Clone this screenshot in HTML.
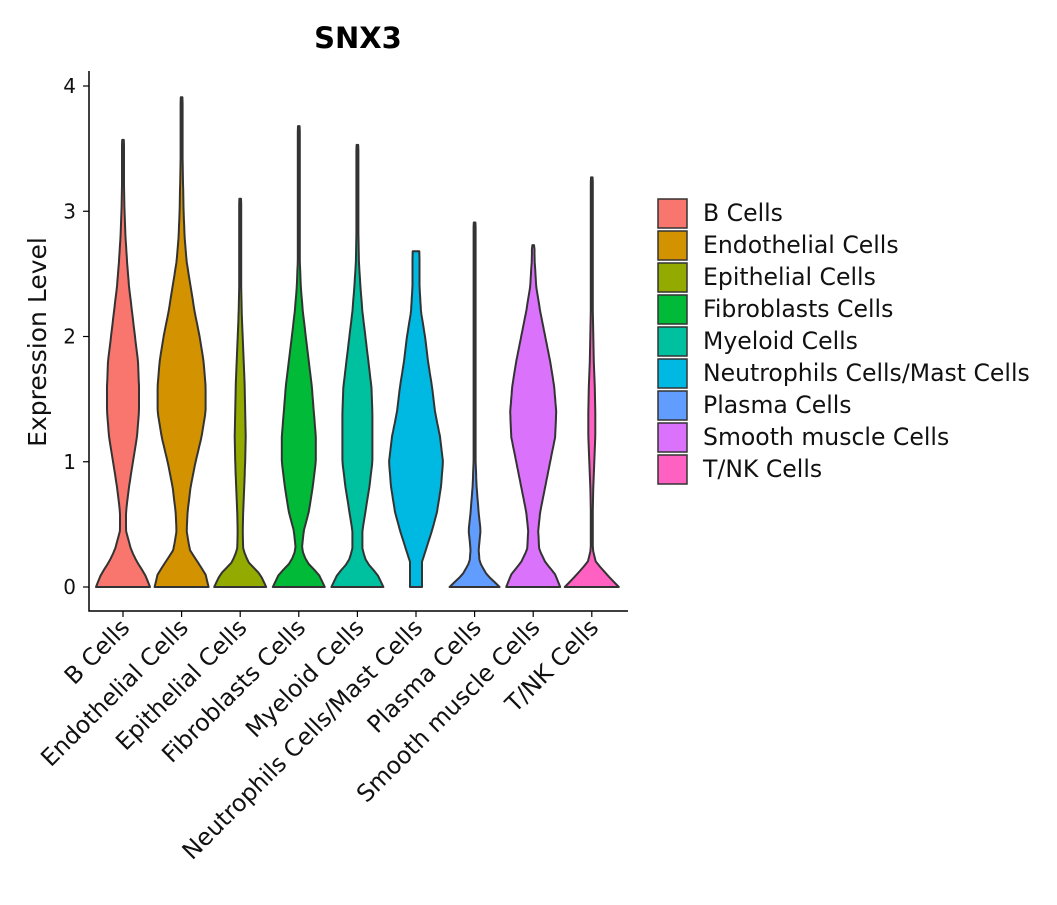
<!DOCTYPE html>
<html><head><meta charset="utf-8"><style>
body{margin:0;background:#fff;}
svg{font-family:"DejaVu Sans","Liberation Sans",sans-serif;}
</style></head><body>
<svg id="chart" width="1057" height="900">
<text x="358" y="48" text-anchor="middle" font-size="29" font-weight="bold">SNX3</text>
<text transform="translate(46,342) rotate(-90)" text-anchor="middle" font-size="25" fill="#111">Expression Level</text>
<g id="plot"></g>
<g id="legend"></g>
</svg>
<script>
const categories=["B Cells","Endothelial Cells","Epithelial Cells","Fibroblasts Cells","Myeloid Cells","Neutrophils Cells/Mast Cells","Plasma Cells","Smooth muscle Cells","T/NK Cells"];
const colors=["#F8766D","#D39200","#93AA00","#00BA38","#00C19F","#00B9E3","#619CFF","#DB72FB","#FF61C3"];
const yGrid=[0,0.1,0.2,0.3,0.45,0.6,0.8,1.0,1.2,1.4,1.6,1.8,2.0,2.2,2.4,2.6,2.8,3.0,3.2,3.4,3.6,3.8,4.0];
const maxVals=[3.57,3.91,3.1,3.68,3.53,2.68,2.91,2.73,3.27];
const dens=[
[27,22,14,8,3,3,6,10,14,16,16,15,12,9,6,4,2.5,1.5,1,1,1,1,1],
[27,24,16,8,5,6,9,14,20,24,24,22,18,13,9,5,3,2,1.5,1,1,1,1],
[26,20,8,3,2.5,3,4,5,5.5,5,4.5,3.5,2.5,1.5,1,1,1,1,1,1,1,1,1],
[26,20,8,3,5,10,14,17,17,15,13,10,7,4,2,1,1,1,1,1,1,1,1],
[26,20,9,5,5,8,12,15,15,15,14,11,8,5,3,1.5,1,1,1,1,1,1,1],
[6,6,6,10,16,21,25,27,24,19,16,12,9,5,3.5,3.5,3,3,3,3,3,3,3],
[25,12,5,4,6,4,2,1,1,1,1,1,1,1,1,1,1,1,1,1,1,1,1],
[27,22,12,6,5,7,12,17,22,23,21,17,12,7,3,1.5,1,1,1,1,1,1,1],
[27,15,4,1,1,1,1.5,2.5,3.5,3.5,3,2,1.5,1,1,1,1,1,1,1,1,1,1]
];
const yTicks=[0,1,2,3,4];
const NS="http://www.w3.org/2000/svg";
const y=v=>587-v*125.25;
const x=i=>123+i*58.6;
function mk(t,a,p){const e=document.createElementNS(NS,t);for(const k in a)e.setAttribute(k,a[k]);p.appendChild(e);return e;}
const plot=document.getElementById('plot');
function interp(d,v){for(let k=0;k<yGrid.length-1;k++){if(v<=yGrid[k+1]){const t=(v-yGrid[k])/(yGrid[k+1]-yGrid[k]);return d[k]+(d[k+1]-d[k])*t;}}return d[d.length-1];}
const xLabels=[];
categories.forEach((c,i)=>{
  const mx=maxVals[i],d=dens[i];const right=[],left=[];
  const n=80;
  for(let s=0;s<=n;s++){const v=mx*s/n;let w=interp(d,v);if(i!==5&&s===n)w=Math.min(w,0.8);right.push([x(i)+w,y(v)]);left.push([x(i)-w,y(v)]);}
  const pts=right.concat(left.reverse());
  const p=mk('path',{d:'M'+pts.map(q=>q[0].toFixed(1)+','+q[1].toFixed(1)).join('L')+'Z',fill:colors[i],stroke:'#333','stroke-width':2,'stroke-linejoin':'round'},plot);
  
  
  mk('line',{x1:x(i),y1:611,x2:x(i),y2:617,stroke:'#000','stroke-width':1.2},plot);
  const t=mk('text',{transform:`translate(${x(i)+8},${629}) rotate(-45)`,'text-anchor':'end','font-size':20,fill:'#111'},plot);
  t.textContent=c;
  
  
  xLabels.push(t);
});
yTicks.forEach(v=>{
  mk('line',{x1:83,y1:y(v),x2:89,y2:y(v),stroke:'#000','stroke-width':1.2},plot);
  const t=mk('text',{x:76,y:y(v)+7,'text-anchor':'end','font-size':20,fill:'#111'},plot);
  t.textContent=v;
  
  
});
const ax=mk('path',{d:'M89,71V611H628',fill:'none',stroke:'#000','stroke-width':1.5},plot);


const lg=document.getElementById('legend');
const lgTexts=[];
categories.forEach((c,i)=>{
  const r=mk('rect',{x:658,y:199+i*32,width:29,height:29,fill:colors[i],stroke:'#333','stroke-width':1.5},lg);
  
  
  const t=mk('text',{x:703,y:221+i*32,'font-size':21,fill:'#111'},lg);
  t.textContent=c;
  
  
  lgTexts.push(t);
});
function fit(list,idx,target,base){const w=list[idx].getComputedTextLength();const fs=base*target/w;list.forEach(t=>t.setAttribute('font-size',fs.toFixed(2)));}
fit(lgTexts,5,327,21);
fit(xLabels,5,328,20);
</script>
</body></html>
